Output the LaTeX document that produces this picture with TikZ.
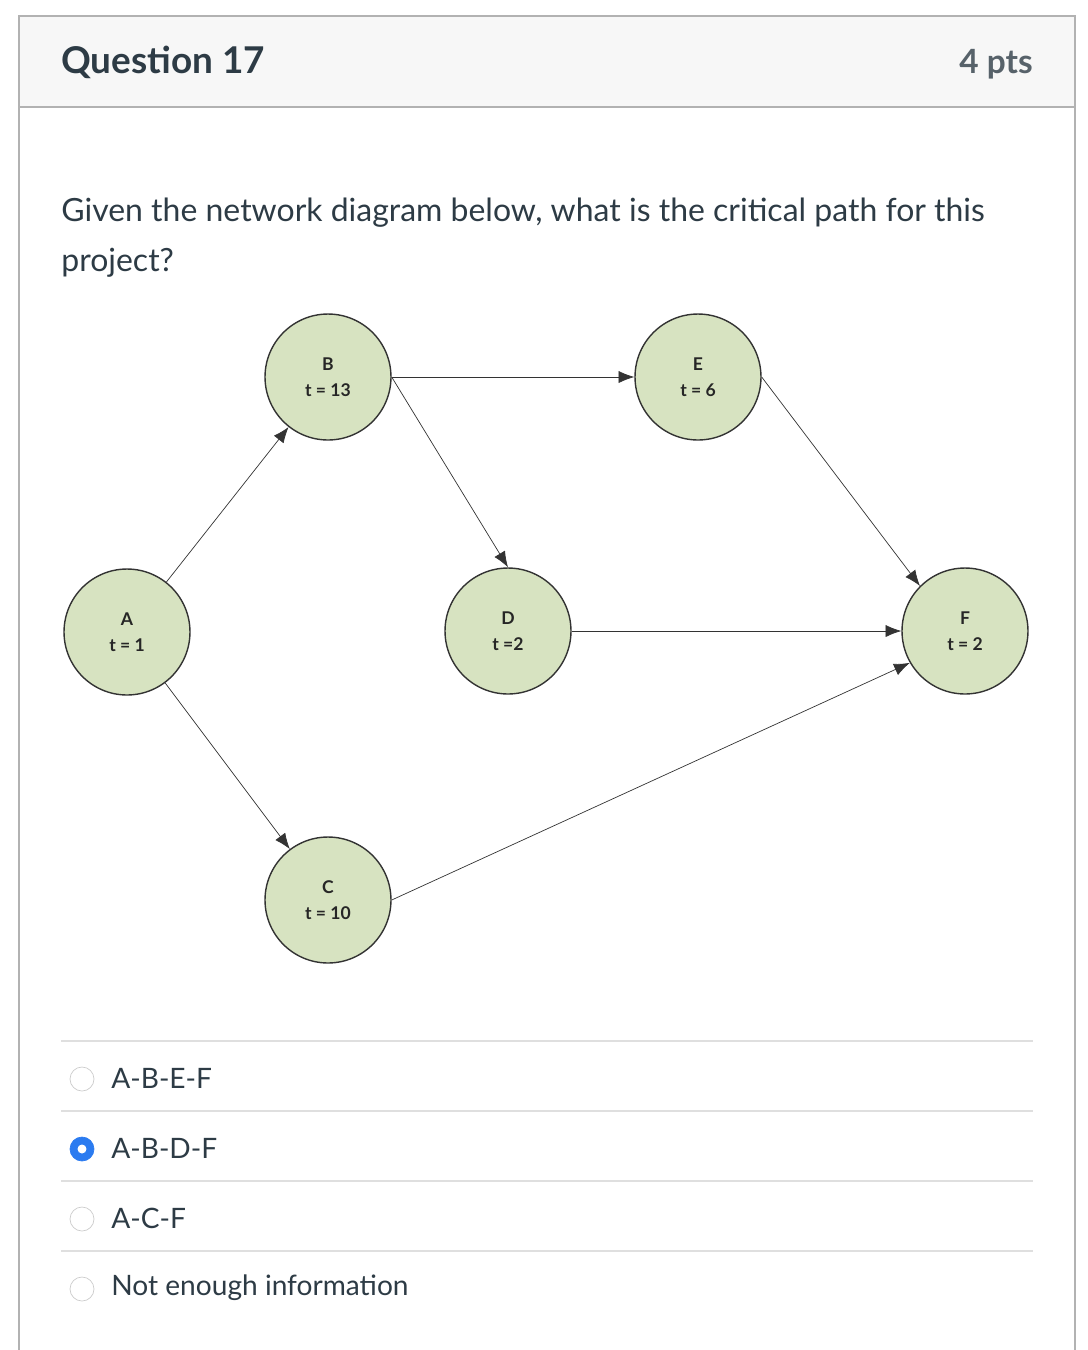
\documentclass[tikz,border=0pt]{standalone}
\usepackage{fontspec}
\setmainfont{Lato}
\usetikzlibrary{arrows.meta, positioning}
\definecolor{ink}{HTML}{2D3B45}
\definecolor{sage}{HTML}{D7E3C1}
\definecolor{chosen}{HTML}{2B7BF0}
\tikzset{>={Latex[length=9pt,width=7pt]}}
\tikzset{
  task/.style={circle, draw=black!80, thick, fill=sage, minimum size=2.52cm, align=center,
    font=\fontsize{10}{15}\selectfont\bfseries, text=black!85},
  link/.style={->, thin, black!80},
  rule/.style={gray!25, line width=1.2pt},
  radio/.style={circle, draw=gray!40, fill=white, minimum size=0.48cm, inner sep=0pt},
  answer/.style={anchor=west, inner sep=0pt, font=\fontsize{16}{19}\selectfont, text=ink}
}
\begin{document}
\begin{tikzpicture}[x=0.02cm, y=-0.02cm]
\useasboundingbox (0,0) rectangle (1088,1350);

% Frame and header
\fill[gray!6] (19,16) rectangle (1075,107);
\draw[gray!60, line width=1.2pt] (19,1350) -- (19,16) -- (1075,16) -- (1075,1350);
\draw[gray!60, line width=1.2pt] (19,107) -- (1075,107);
\node[anchor=west, inner sep=0pt, text=ink, font=\fontsize{21}{25}\selectfont\bfseries] (title) at (61,62) {Question 17};
\node[anchor=east, inner sep=0pt, text=ink!80, font=\fontsize{19}{23}\selectfont\bfseries] (pts) at (1033,64) {4 pts};

% Question
\node[anchor=north west, inner sep=0pt, text=ink, align=left, font=\fontsize{18.2}{28.5}\selectfont] (ask) at (61,198)
  {Given the network diagram below, what is the critical path for this\\project?};

% Network
\node[task] (B) at (328,377) {B\\t = 13};
\node[task] (E) at (698,377) {E\\t = 6};
\node[task] (A) at (127,632) {A\\t = 1};
\node[task] (D) at (508,631) {D\\t =2};
\node[task] (F) at (965,631) {F\\t = 2};
\node[task] (C) at (328,900) {C\\t = 10};

\draw[link] (A) -- (B);
\draw[link] (A) -- (C);
\draw[link] (B.east) -- (E.west);
\draw[link] (B.east) -- (D.north);
\draw[link] (E.east) -- (F.135);
\draw[link] (D.east) -- (F.west);
\draw[link] (C.east) -- (F.210);

% Answers
\foreach \y in {1041,1111,1181,1251}
  \draw[rule] (61,\y) -- (1033,\y);
\node[radio] (r1) at (82,1079) {};
\node[radio, draw=chosen, fill=chosen] (r2) at (82,1149) {};
\fill[white] (r2.center) circle (0.09cm);
\node[radio] (r3) at (82,1219) {};
\node[radio] (r4) at (82,1289) {};
\node[answer] (a1) at (111,1078) {A-B-E-F};
\node[answer] (a2) at (111,1148) {A-B-D-F};
\node[answer] (a3) at (111,1218) {A-C-F};
\node[answer] (a4) at (111,1288) {Not enough information};
\end{tikzpicture}
\end{document}
